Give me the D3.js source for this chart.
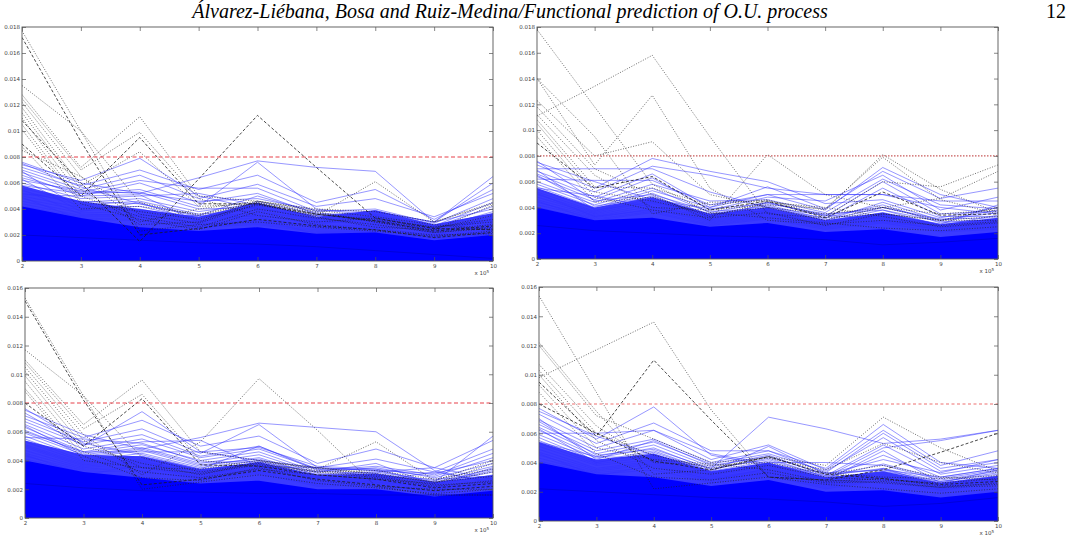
<!DOCTYPE html>
<html>
<head>
<meta charset="utf-8">
<script src="https://cdn.jsdelivr.net/npm/d3@7"></script>
<style>
  body { margin: 0; background: #fff; }
  svg { display: block; }
  .tick text { font-family: "DejaVu Sans", sans-serif; font-size: 5.5px; fill: #444; }
  .tick line { stroke: #555; stroke-width: 0.7; }
  .blue-line { fill: none; stroke: #3030ff; stroke-width: 0.7; stroke-opacity: 0.72; }
  .dot-line { fill: none; stroke: #1a1a1a; stroke-width: 0.75; stroke-opacity: 0.85; stroke-dasharray: 1,1.6; }
  .dash-line { fill: none; stroke: #1a1a1a; stroke-width: 0.8; stroke-dasharray: 3,2; }
</style>
</head>
<body>
<div id="chart"></div>
<script>

// x positions (x 10^5), values below are in units of 1e-3
var xVals = [2, 3, 4, 5, 6, 7, 8, 9, 10];
var threshold = 8;

// ---- panel 1 (top left)
var p1Band = [4.2, 3.3, 2.6, 2.3, 2.6, 2.1, 2.2, 1.6, 2.0];
var p1Dense = [5.8, 4.6, 4.0, 3.4, 4.5, 3.4, 3.9, 2.8, 3.7];
var p1Blue = [
  [7.6, 6.0, 5.2, 6.4, 7.7, 7.2, 6.9, 3.0, 6.5],
  [7.4, 6.2, 7.9, 5.0, 4.0, 3.5, 3.8, 3.0, 6.0],
  [7.2, 5.8, 7.0, 5.5, 6.6, 4.5, 5.5, 3.2, 5.5],
  [7.0, 5.5, 6.6, 4.8, 5.9, 4.2, 4.8, 3.4, 5.2],
  [6.8, 5.3, 6.2, 5.6, 5.6, 3.8, 4.0, 2.9, 4.8],
  [6.6, 5.0, 6.0, 4.5, 5.2, 3.6, 3.6, 2.7, 4.5],
  [6.4, 5.2, 5.5, 4.2, 7.6, 4.0, 3.5, 2.6, 4.2],
  [6.2, 5.4, 5.2, 4.6, 4.8, 3.9, 3.8, 3.0, 4.0],
  [6.0, 4.8, 5.0, 5.2, 4.3, 3.5, 3.3, 2.5, 3.8],
  [5.8, 5.2, 5.3, 4.0, 4.1, 3.2, 3.9, 2.8, 3.6],
  [5.6, 4.5, 4.8, 3.8, 4.4, 3.4, 3.1, 2.4, 3.4],
  [5.4, 4.3, 4.6, 3.6, 3.9, 3.0, 3.5, 2.2, 3.2],
  [5.2, 4.6, 4.4, 3.4, 3.7, 3.3, 2.9, 2.6, 3.0],
  [5.0, 4.1, 4.2, 3.2, 3.5, 2.9, 3.2, 2.1, 2.8],
  [4.8, 3.9, 4.0, 3.1, 3.3, 2.7, 2.7, 2.3, 2.7],
  [4.6, 3.7, 3.8, 2.9, 3.1, 2.6, 2.5, 2.0, 2.5],
  [4.4, 3.5, 3.6, 2.8, 3.0, 2.4, 2.4, 1.9, 2.4],
  [4.2, 3.4, 3.4, 2.7, 2.9, 2.3, 2.3, 1.8, 2.2],
  [4.0, 3.3, 3.2, 2.6, 2.8, 2.2, 2.2, 1.7, 2.1],
  [5.1, 5.0, 5.1, 3.0, 4.6, 3.6, 3.0, 2.4, 2.6],
  [7.5, 5.7, 4.4, 3.5, 5.0, 3.7, 3.3, 2.6, 3.1],
  [6.9, 4.0, 3.9, 3.3, 4.2, 3.1, 2.8, 2.2, 3.3],
  [6.3, 3.8, 4.5, 3.0, 3.6, 2.8, 3.4, 2.0, 2.9],
  [5.5, 3.6, 3.5, 3.5, 3.4, 2.5, 2.6, 1.9, 2.3],
  [4.9, 3.2, 3.1, 2.5, 3.2, 2.1, 2.1, 1.8, 2.0]
];
var p1Dotted = [
  [17.7, 10.0, 2.3, 2.8, 3.0, 2.6, 2.3, 1.9, 2.3],
  [13.5, 10.0, 4.5, 3.5, 4.5, 3.6, 3.2, 2.6, 3.0],
  [12.8, 7.2, 11.1, 5.0, 4.6, 3.8, 3.0, 2.4, 2.8],
  [12.5, 7.0, 9.9, 4.8, 3.5, 3.0, 3.3, 2.6, 3.2],
  [12.2, 6.5, 3.0, 4.0, 4.6, 4.0, 3.8, 3.0, 4.4],
  [11.8, 5.8, 8.4, 4.2, 4.4, 3.5, 6.1, 3.0, 4.5],
  [11.4, 5.5, 2.8, 3.0, 4.6, 3.9, 3.4, 2.8, 2.4],
  [11.0, 5.0, 3.4, 2.6, 4.0, 3.3, 2.8, 2.2, 2.5],
  [10.5, 4.6, 3.8, 3.2, 4.3, 3.6, 3.1, 2.5, 3.5],
  [10.1, 4.4, 3.2, 2.4, 3.8, 2.8, 2.4, 2.0, 2.1],
  [8.8, 4.0, 4.2, 3.6, 4.5, 3.7, 3.0, 2.2, 2.6],
  [8.5, 6.5, 3.6, 2.9, 4.4, 3.4, 2.6, 2.4, 4.3]
];
var p1Dashed = [
  [17.2, 9.2, 2.0, 2.5, 3.2, 2.7, 2.4, 1.8, 2.2],
  [10.8, 6.0, 1.5, 6.3, 11.2, 7.2, 3.3, 2.5, 2.4],
  [9.0, 5.0, 9.5, 4.4, 4.4, 3.6, 3.1, 2.3, 2.7]
];
// darker blue curve low in the mass
var p1Low = [2.0, 1.8, 1.6, 1.4, 1.3, 1.1, 0.8, 0.5, 0.2];

// ---- panel 2 (top right)
var p2Band = [4.0, 3.0, 3.2, 2.5, 2.8, 2.1, 2.3, 1.7, 2.1];
var p2Dense = [5.5, 4.0, 4.8, 3.5, 4.0, 3.0, 3.6, 2.7, 3.2];
var p2Blue = [
  [7.5, 6.0, 4.6, 3.9, 4.3, 3.5, 3.8, 2.6, 3.4],
  [7.0, 7.0, 7.0, 5.2, 4.0, 3.4, 4.0, 3.0, 3.6],
  [7.3, 5.5, 7.8, 6.8, 6.0, 4.3, 4.6, 3.2, 4.0],
  [6.8, 5.2, 7.2, 6.5, 5.5, 5.0, 5.0, 4.5, 4.5],
  [6.2, 6.1, 6.1, 4.2, 5.0, 3.8, 7.1, 5.0, 4.0],
  [6.6, 4.8, 6.6, 4.0, 5.6, 3.9, 6.8, 4.7, 5.5],
  [6.4, 4.6, 6.3, 3.8, 4.8, 4.5, 6.5, 3.8, 4.8],
  [6.0, 4.4, 5.8, 4.5, 4.6, 3.6, 6.2, 4.2, 3.9],
  [5.8, 4.2, 5.5, 3.6, 4.4, 3.3, 6.0, 3.5, 3.7],
  [5.6, 4.0, 5.3, 4.0, 5.0, 5.0, 5.0, 4.0, 3.5],
  [5.4, 3.9, 5.1, 3.4, 4.2, 3.1, 5.5, 3.3, 3.3],
  [5.2, 3.7, 4.9, 3.3, 4.0, 3.0, 4.0, 3.1, 3.2],
  [5.0, 3.6, 4.7, 3.2, 3.8, 2.9, 3.8, 2.9, 3.0],
  [4.8, 3.5, 4.5, 3.1, 3.6, 2.8, 3.5, 2.7, 2.9],
  [4.6, 3.4, 4.3, 3.0, 3.5, 2.7, 3.3, 2.6, 2.8],
  [4.4, 3.3, 4.1, 2.9, 3.4, 2.6, 3.2, 2.5, 2.7],
  [4.2, 3.2, 3.9, 2.8, 3.3, 2.5, 3.0, 2.4, 2.6],
  [4.0, 3.1, 3.7, 2.7, 3.2, 2.4, 2.9, 2.3, 2.5],
  [7.6, 4.5, 5.0, 3.7, 3.9, 3.2, 4.2, 2.8, 3.1],
  [6.9, 3.8, 4.4, 3.5, 3.7, 2.6, 3.4, 2.4, 2.9],
  [5.5, 4.9, 4.0, 3.3, 3.6, 2.8, 3.6, 2.7, 4.2],
  [5.1, 3.3, 3.8, 3.0, 4.4, 3.4, 3.1, 2.2, 2.4],
  [4.5, 3.0, 3.6, 2.6, 3.1, 2.3, 2.8, 2.1, 2.3],
  [6.5, 4.1, 4.8, 3.5, 4.1, 3.0, 4.4, 3.0, 3.8]
];
var p2Dotted = [
  [17.8, 11.8, 5.8, 3.6, 3.2, 2.8, 2.4, 2.2, 2.5],
  [11.1, 13.4, 15.8, 9.5, 3.5, 3.2, 3.5, 3.0, 3.3],
  [14.0, 7.3, 12.7, 5.5, 3.0, 2.7, 3.0, 2.6, 2.9],
  [14.0, 9.5, 3.5, 4.4, 4.5, 3.8, 8.1, 5.4, 3.6],
  [12.3, 8.0, 9.1, 5.0, 4.0, 3.5, 4.0, 3.5, 3.8],
  [11.8, 7.0, 5.0, 3.0, 8.1, 5.0, 4.0, 3.0, 4.0],
  [11.2, 6.5, 4.0, 3.8, 4.2, 3.9, 7.9, 4.6, 3.5],
  [10.8, 5.6, 5.5, 4.2, 4.6, 3.3, 6.0, 5.6, 7.3],
  [10.5, 5.2, 4.5, 3.5, 4.0, 3.0, 4.0, 4.7, 6.8],
  [10.0, 4.8, 3.8, 3.2, 3.6, 2.6, 3.5, 3.0, 3.0],
  [9.5, 4.4, 4.8, 3.3, 4.4, 4.0, 3.3, 2.5, 2.8]
];
var p2Dashed = [
  [9.0, 5.5, 6.4, 3.8, 4.5, 3.2, 5.2, 3.4, 3.5]
];
var p2Low = [2.6, 2.2, 2.0, 1.8, 1.7, 1.5, 1.1, 1.3, 1.6];

// ---- panel 3 (bottom left)
var p3Band = [4.0, 3.2, 2.8, 2.4, 2.6, 2.0, 2.0, 1.5, 1.9];
var p3Dense = [5.4, 4.4, 4.3, 3.4, 3.9, 3.0, 3.1, 2.5, 3.0];
var p3Blue = [
  [7.5, 5.8, 4.8, 5.6, 6.6, 6.3, 6.0, 3.3, 2.4],
  [7.3, 5.0, 7.4, 4.6, 4.0, 3.5, 3.3, 2.5, 5.7],
  [7.1, 5.6, 6.8, 5.0, 5.7, 3.8, 4.8, 3.5, 5.4],
  [6.9, 5.3, 6.2, 4.5, 6.5, 3.5, 4.1, 3.2, 4.8],
  [6.7, 5.1, 5.8, 4.3, 5.0, 3.3, 3.6, 3.0, 4.5],
  [6.5, 4.8, 5.5, 4.2, 4.8, 3.4, 3.4, 2.9, 4.2],
  [6.3, 4.6, 5.3, 5.4, 3.6, 3.5, 3.3, 3.1, 4.0],
  [6.1, 4.5, 5.1, 4.0, 4.6, 3.2, 3.5, 2.8, 3.8],
  [5.9, 4.4, 4.9, 3.8, 4.4, 3.1, 3.2, 2.6, 3.6],
  [5.7, 4.2, 4.7, 3.6, 4.2, 3.0, 3.1, 2.5, 3.4],
  [5.5, 4.0, 4.5, 3.5, 4.0, 2.9, 3.0, 2.4, 3.2],
  [5.3, 3.9, 4.3, 3.4, 3.8, 2.8, 2.9, 2.3, 3.0],
  [5.1, 3.8, 4.1, 3.3, 3.7, 2.7, 2.8, 2.2, 2.8],
  [4.9, 3.6, 3.9, 3.2, 3.6, 2.6, 2.7, 2.1, 2.7],
  [4.7, 3.5, 3.8, 3.1, 3.5, 2.5, 2.6, 2.0, 2.6],
  [4.5, 3.4, 3.6, 2.9, 3.3, 2.4, 2.5, 1.9, 2.5],
  [4.3, 3.3, 3.5, 2.8, 3.2, 2.3, 2.4, 1.8, 2.4],
  [4.1, 3.2, 3.3, 2.7, 3.1, 2.2, 2.3, 1.8, 2.3],
  [6.0, 4.6, 4.6, 4.6, 4.9, 3.6, 3.4, 2.4, 3.3],
  [7.6, 5.2, 4.4, 3.4, 5.0, 3.4, 2.9, 2.7, 2.9],
  [5.6, 5.5, 5.2, 3.9, 3.9, 3.2, 3.8, 2.3, 3.5],
  [5.0, 3.7, 4.0, 3.0, 3.4, 2.8, 2.6, 3.2, 2.5],
  [4.4, 3.0, 3.7, 2.8, 3.9, 2.6, 2.5, 2.2, 2.2],
  [6.4, 4.3, 4.8, 3.7, 4.1, 3.0, 3.2, 3.5, 2.7]
];
var p3Dotted = [
  [15.3, 8.5, 2.0, 2.5, 3.0, 2.4, 2.1, 1.7, 2.0],
  [11.7, 8.5, 4.2, 3.2, 3.8, 3.2, 2.8, 2.2, 2.6],
  [11.0, 6.5, 9.6, 4.6, 4.0, 3.5, 3.1, 2.5, 2.9],
  [10.8, 6.2, 8.6, 4.0, 3.6, 3.2, 3.3, 2.7, 3.4],
  [10.5, 5.8, 3.0, 5.3, 9.7, 6.1, 2.2, 1.6, 1.6],
  [10.2, 5.4, 3.5, 3.4, 4.0, 3.4, 5.3, 2.6, 4.0],
  [9.9, 5.0, 3.8, 3.0, 3.9, 3.5, 3.0, 2.5, 3.2],
  [9.5, 4.6, 3.2, 2.8, 3.4, 3.0, 2.7, 2.4, 3.8],
  [9.0, 4.3, 2.8, 2.6, 3.5, 2.6, 2.2, 2.0, 2.0],
  [8.8, 4.0, 3.5, 3.1, 3.7, 3.3, 2.9, 2.3, 2.5]
];
var p3Dashed = [
  [15.1, 8.2, 2.3, 2.7, 3.3, 2.7, 2.3, 1.9, 2.2],
  [8.0, 5.0, 8.3, 3.7, 3.6, 3.0, 2.7, 2.1, 2.4]
];
var p3Low = [2.4, 2.1, 1.9, 1.8, 1.7, 1.7, 1.6, 1.6, 1.6];

// ---- panel 4 (bottom right)
var p4Band = [4.0, 3.2, 3.0, 2.4, 2.8, 2.0, 2.1, 1.6, 2.0];
var p4Dense = [5.4, 4.2, 4.6, 3.4, 4.0, 3.0, 3.4, 2.6, 3.1];
var p4Blue = [
  [7.7, 5.6, 7.8, 4.5, 3.8, 3.3, 3.5, 2.6, 3.5],
  [7.5, 5.8, 4.5, 3.6, 7.1, 6.3, 5.3, 5.6, 6.2],
  [7.3, 5.3, 6.7, 4.8, 4.8, 3.6, 6.6, 4.0, 3.6],
  [6.9, 5.0, 6.2, 4.2, 5.2, 3.5, 6.2, 3.8, 4.8],
  [6.6, 4.8, 5.6, 4.0, 4.8, 3.3, 6.0, 3.6, 4.2],
  [6.4, 4.6, 5.4, 3.9, 4.6, 3.4, 5.7, 3.4, 4.0],
  [6.2, 4.4, 5.2, 3.7, 4.5, 3.1, 5.2, 3.2, 3.8],
  [5.9, 4.3, 5.0, 3.5, 4.3, 3.0, 5.0, 5.5, 6.2],
  [5.7, 4.1, 4.8, 3.4, 4.1, 2.9, 4.5, 3.0, 3.6],
  [5.5, 4.0, 4.6, 3.3, 4.0, 4.0, 3.8, 2.8, 3.4],
  [5.3, 3.9, 4.4, 3.2, 3.8, 2.8, 3.4, 2.7, 3.2],
  [5.1, 3.8, 4.2, 3.1, 3.7, 2.7, 3.3, 2.6, 3.1],
  [4.9, 3.6, 4.1, 3.0, 3.5, 2.6, 3.2, 2.5, 3.0],
  [4.7, 3.5, 4.0, 2.9, 3.4, 2.5, 3.1, 2.4, 2.9],
  [4.5, 3.4, 3.9, 2.8, 3.3, 2.4, 3.0, 2.3, 2.8],
  [4.3, 3.3, 3.7, 2.7, 3.2, 2.3, 2.9, 2.2, 2.7],
  [4.1, 3.2, 3.5, 2.6, 3.1, 2.2, 2.8, 2.1, 2.6],
  [7.0, 4.2, 5.5, 3.8, 4.4, 3.2, 4.2, 3.3, 4.2],
  [6.8, 4.5, 4.9, 3.6, 4.2, 3.0, 3.9, 2.9, 3.5],
  [6.0, 6.0, 6.2, 4.6, 3.9, 3.1, 3.6, 2.7, 3.3],
  [5.4, 4.4, 4.3, 3.3, 3.9, 2.8, 4.8, 2.6, 3.0],
  [4.6, 3.1, 3.8, 2.8, 3.6, 2.6, 3.6, 2.4, 2.8],
  [6.3, 4.0, 4.7, 3.4, 5.1, 3.2, 3.5, 3.0, 3.6]
];
var p4Dotted = [
  [15.4, 8.8, 2.2, 2.6, 3.0, 2.5, 2.2, 1.9, 2.2],
  [9.8, 11.7, 13.6, 7.6, 3.0, 2.8, 2.6, 2.3, 2.6],
  [12.2, 7.5, 3.2, 3.5, 4.4, 3.8, 7.1, 5.0, 3.4],
  [12.0, 7.2, 5.6, 4.0, 4.3, 3.5, 5.3, 4.0, 3.3],
  [10.7, 6.5, 4.0, 3.8, 4.0, 3.2, 3.8, 3.0, 2.8],
  [10.3, 6.0, 4.5, 3.6, 4.4, 3.3, 3.0, 2.9, 3.1],
  [10.0, 5.5, 3.6, 3.2, 3.8, 3.0, 2.8, 2.6, 2.9],
  [9.3, 5.0, 4.2, 3.9, 3.5, 2.7, 2.9, 2.4, 2.5],
  [8.8, 4.6, 3.0, 2.8, 3.3, 2.6, 2.7, 2.3, 2.4]
];
var p4Dashed = [
  [9.5, 5.8, 11.0, 6.9, 3.0, 2.8, 3.5, 4.7, 6.0],
  [8.0, 6.0, 4.1, 3.5, 4.4, 3.2, 2.9, 2.5, 2.7]
];
var p4Low = [2.2, 2.0, 1.8, 1.6, 1.5, 1.3, 1.0, 1.2, 1.6];

var yMaxTop = 18, yMaxBottom = 16;

var title = "Álvarez-Liébana, Bosa and Ruiz-Medina/Functional prediction of O.U. process";
var pageNumber = "12";


var width = 1084, height = 539;

var svg = d3.select("#chart").append("svg")
    .attr("width", width)
    .attr("height", height);

// page header
svg.append("text")
    .attr("x", 510)
    .attr("y", 18)
    .attr("text-anchor", "middle")
    .style("font-family", "'Liberation Serif', serif")
    .style("font-style", "italic")
    .style("font-size", "20px")
    .text(title);

svg.append("text")
    .attr("x", 1056)
    .attr("y", 18)
    .attr("text-anchor", "middle")
    .style("font-family", "'Liberation Serif', serif")
    .style("font-size", "20px")
    .text(pageNumber);

// panel boxes (pixels)
var panels = [
    {id: "p1", left: 22, top: 27, right: 493, bottom: 261, yMax: yMaxTop, band: p1Band, dense: p1Dense, blue: p1Blue, low: p1Low, dotted: p1Dotted, dashed: p1Dashed, red: "#e8404a", redDash: "4,2.5"},
    {id: "p2", left: 537, top: 27, right: 998, bottom: 259, yMax: yMaxTop, band: p2Band, dense: p2Dense, blue: p2Blue, low: p2Low, dotted: p2Dotted, dashed: p2Dashed, red: "#c85a5a", redDash: "1.5,1.5"},
    {id: "p3", left: 25, top: 288, right: 493, bottom: 518, yMax: yMaxBottom, band: p3Band, dense: p3Dense, blue: p3Blue, low: p3Low, dotted: p3Dotted, dashed: p3Dashed, red: "#e8404a", redDash: "4,2.5"},
    {id: "p4", left: 539, top: 287, right: 998, bottom: 521, yMax: yMaxBottom, band: p4Band, dense: p4Dense, blue: p4Blue, low: p4Low, dotted: p4Dotted, dashed: p4Dashed, red: "#ee7070", redDash: "3,2.5"}
];

var fmt = d3.format("~g");

panels.forEach(function(p) {
    var w = p.right - p.left,
        h = p.bottom - p.top;

    var g = svg.append("g")
        .attr("transform", "translate(" + p.left + "," + p.top + ")");

    var x = d3.scaleLinear().domain([2, 10]).range([0, w]);
    var y = d3.scaleLinear().domain([0, p.yMax]).range([h, 0]);

    g.append("clipPath").attr("id", "clip-" + p.id)
        .append("rect").attr("width", w).attr("height", h);

    var plot = g.append("g").attr("clip-path", "url(#clip-" + p.id + ")");

    var line = d3.line()
        .x(function(d, i) { return x(xVals[i]); })
        .y(function(d) { return y(d); });

    // dense mass of blue curves
    var areaTo = function(top) {
        return d3.area()
            .x(function(d, i) { return x(xVals[i]); })
            .y0(y(0))
            .y1(function(d) { return y(d); })(top);
    };
    plot.append("path").attr("d", areaTo(p.dense))
        .attr("fill", "#0a0aff").attr("fill-opacity", 0.8);

    plot.selectAll(".blue-line")
        .data(p.blue)
        .enter().append("path")
        .attr("class", "blue-line")
        .attr("d", line);

    plot.append("path").attr("d", areaTo(p.band))
        .attr("fill", "#0000ff");

    plot.append("path").attr("d", line(p.low))
        .attr("fill", "none")
        .attr("stroke", "#0000c0")
        .attr("stroke-width", 0.6);

    plot.selectAll(".dot-line")
        .data(p.dotted)
        .enter().append("path")
        .attr("class", "dot-line")
        .attr("d", line);

    plot.selectAll(".dash-line")
        .data(p.dashed)
        .enter().append("path")
        .attr("class", "dash-line")
        .attr("d", line);

    // threshold line
    plot.append("line")
        .attr("x1", 0).attr("x2", w)
        .attr("y1", y(threshold)).attr("y2", y(threshold))
        .attr("stroke", p.red)
        .attr("stroke-width", 1.2)
        .attr("stroke-dasharray", p.redDash);

    // axes, matlab style: ticks inside on all four sides
    var yTicks = d3.range(0, p.yMax + 0.1, 2);

    var xAxis = d3.axisBottom(x).tickValues(xVals).tickSize(-4).tickPadding(3).tickFormat(fmt);
    var yAxis = d3.axisLeft(y).tickValues(yTicks).tickSize(-4).tickPadding(2)
        .tickFormat(function(d) { return fmt(d / 1000); });

    g.append("g").attr("transform", "translate(0," + h + ")").call(xAxis)
        .call(function(s) { s.select(".domain").remove(); });
    g.append("g").call(yAxis)
        .call(function(s) { s.select(".domain").remove(); });
    g.append("g").call(d3.axisTop(x).tickValues(xVals).tickSize(-4).tickFormat(""))
        .call(function(s) { s.select(".domain").remove(); });
    g.append("g").attr("transform", "translate(" + w + ",0)")
        .call(d3.axisRight(y).tickValues(yTicks).tickSize(-4).tickFormat(""))
        .call(function(s) { s.select(".domain").remove(); });

    g.append("rect")
        .attr("width", w).attr("height", h)
        .attr("fill", "none")
        .attr("stroke", "#555")
        .attr("stroke-width", 0.9);

    // x 10^5 label
    var ex = g.append("text")
        .attr("x", w - 4)
        .attr("y", h + 14)
        .attr("text-anchor", "end")
        .style("font-family", "'DejaVu Sans', sans-serif")
        .style("font-size", "5.5px")
        .style("fill", "#444");
    ex.append("tspan").text("x 10");
    ex.append("tspan").attr("dy", -2.5).style("font-size", "4px").text("5");
});

</script>
</body>
</html>
